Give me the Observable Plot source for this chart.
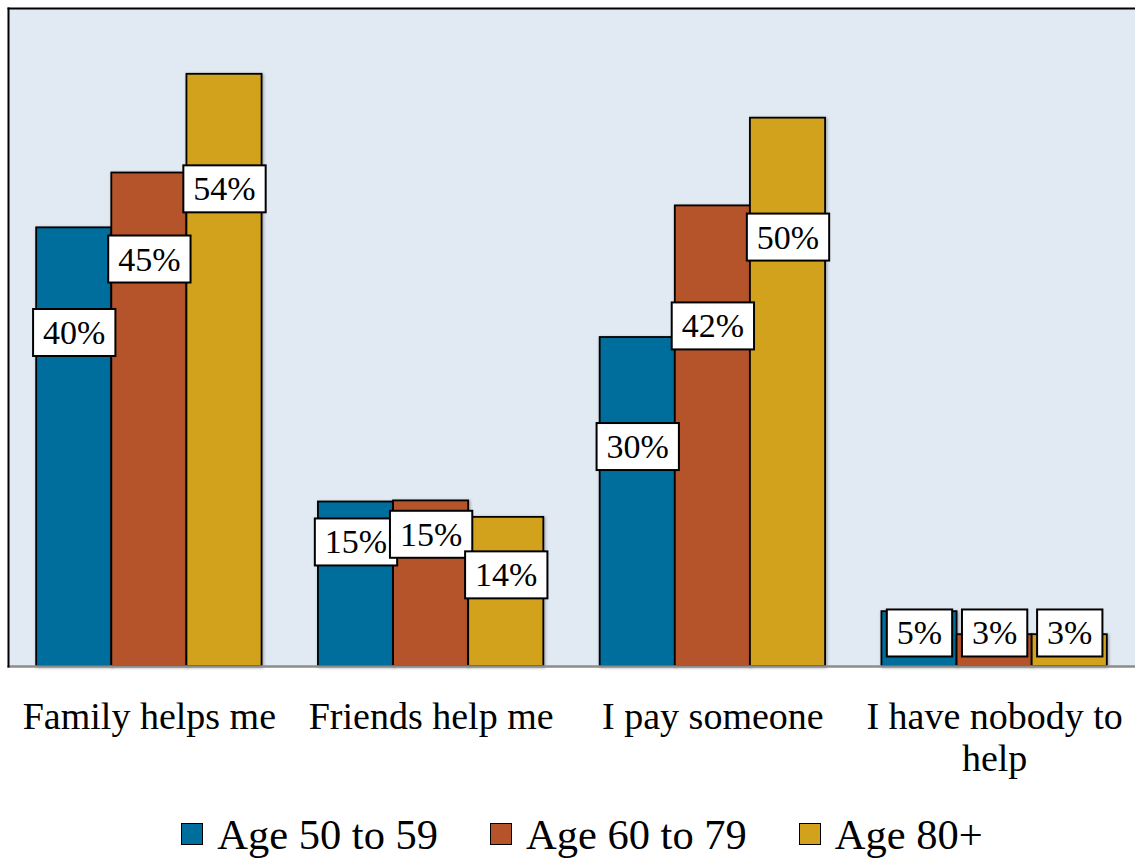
<!DOCTYPE html>
<html><head><meta charset="utf-8">
<script src="https://cdn.jsdelivr.net/npm/d3@7"></script>
<script src="https://cdn.jsdelivr.net/npm/@observablehq/plot@0.6"></script>
<style>
body{margin:0;background:#fff;font-family:"Liberation Serif",serif;}
#chart svg{display:block;}
#legend{display:flex;justify-content:center;align-items:center;height:61px;font-size:42.5px;color:#000;padding-left:29px;padding-top:7px;box-sizing:border-box;}
.item{display:flex;align-items:center;margin:0 26px;}
.sw{width:20px;height:20px;border:1.6px solid #000;margin-right:14px;}
g[aria-label="bar"] rect{filter:drop-shadow(1px 1px 1.5px rgba(0,0,0,.35));}
</style></head><body>
<div id="chart"></div><div id="legend"></div>
<script>
const categories = ["Family helps me", "Friends help me", "I pay someone", "I have nobody to help"];
const tickLabels = ["Family helps me", "Friends help me", "I pay someone", "I have nobody to\nhelp"];
const series = ["Age 50 to 59", "Age 60 to 79", "Age 80+"];
const colors = ["#006E9C", "#B5532A", "#D2A21D"];
const background = "#E1E9F3";

// bar values (%)
const age50to59 = [40, 15, 30, 5];
const age60to79 = [45, 15.1, 42, 2.9];
const age80plus = [54, 13.6, 50, 2.9];

// printed data labels
const labels50to59 = ["40%", "15%", "30%", "5%"];
const labels60to79 = ["45%", "15%", "42%", "3%"];
const labels80plus = ["54%", "14%", "50%", "3%"];

// where each data label sits (value-axis units, %)
const labelAt50to59 = [30.4, 11.3, 20.0, 3.0];
const labelAt60to79 = [37.1, 12.0, 31.0, 3.0];
const labelAt80plus = [43.5, 8.3, 39.1, 3.0];

const valuesBySeries = [age50to59, age60to79, age80plus];
const labelsBySeries = [labels50to59, labels60to79, labels80plus];
const labelAtBySeries = [labelAt50to59, labelAt60to79, labelAt80plus];

const data = categories.flatMap((c, i) => series.map((s, j) => ({
  category: c, series: s,
  value: valuesBySeries[j][i],
  label: labelsBySeries[j][i],
  labelAt: labelAtBySeries[j][i]
})));

const font = '"Liberation Serif", serif';
const W = 1135, H = 800, mL = 8, mR = 0, mT = 8, mB = 134;
const padInner = 0.2, padOuter = 0.1;
// the super-facet frame spans the fx bands only; extend it to the full plot area
const outerGap = padOuter * (W - mL - mR) / (categories.length - padInner + 2 * padOuter);
const ext = {insetLeft: -outerGap, insetRight: -outerGap};

const chart = Plot.plot({
  width: W, height: H,
  marginLeft: mL, marginRight: mR, marginTop: mT, marginBottom: mB,
  style: {fontFamily: font, background: "transparent", color: "#000"},
  fx: {domain: categories, paddingInner: padInner, paddingOuter: padOuter, round: false, label: null},
  x: {domain: series, padding: 0, round: false, axis: null},
  y: {domain: [0, 60], axis: null},
  color: {domain: series, range: colors},
  marks: [
    Plot.frame({facet: "super", fill: background, stroke: null, ...ext}),
    Plot.barY(data, {fx: "category", x: "series", y: "value", fill: "series", stroke: "#000", strokeWidth: 1.8}),
    Plot.frame({facet: "super", anchor: "bottom", stroke: "#8c8c8c", strokeWidth: 2.5, ...ext}),
    Plot.frame({facet: "super", anchor: "left", stroke: "#000", strokeWidth: 2, ...ext}),
    Plot.frame({facet: "super", anchor: "top", stroke: "#000", strokeWidth: 2, ...ext}),
    Plot.text(data, {fx: "category", x: "series", y: "labelAt", text: "label", fontSize: 34, fill: "#000"}),
    Plot.axisFx({anchor: "bottom", tickSize: 0, tickPadding: 33, fontSize: 38, lineHeight: 1.1, label: null,
      tickFormat: d => tickLabels[categories.indexOf(d)]})
  ]
});
document.getElementById("chart").appendChild(chart);

// white boxes behind the data labels
const labelSet = new Set([...labels50to59, ...labels60to79, ...labels80plus]);
Array.from(chart.querySelectorAll("text")).filter(t => labelSet.has(t.textContent.trim())).forEach(t => {
  const bb = t.getBBox();
  const cy = bb.y + bb.height / 2;
  const r = document.createElementNS("http://www.w3.org/2000/svg", "rect");
  r.setAttribute("x", bb.x - 10);
  r.setAttribute("y", cy - 23.5);
  r.setAttribute("width", bb.width + 20);
  r.setAttribute("height", 47);
  r.setAttribute("fill", "#fff");
  r.setAttribute("stroke", "#000");
  r.setAttribute("stroke-width", 2);
  const tr = t.getAttribute("transform");
  if (tr) r.setAttribute("transform", tr);
  t.parentNode.insertBefore(r, t);
});

// legend
const legend = d3.select("#legend");
series.forEach((s, i) => {
  const it = legend.append("div").attr("class", "item");
  it.append("div").attr("class", "sw").style("background", colors[i]);
  it.append("span").text(s);
});
</script>
</body></html>
